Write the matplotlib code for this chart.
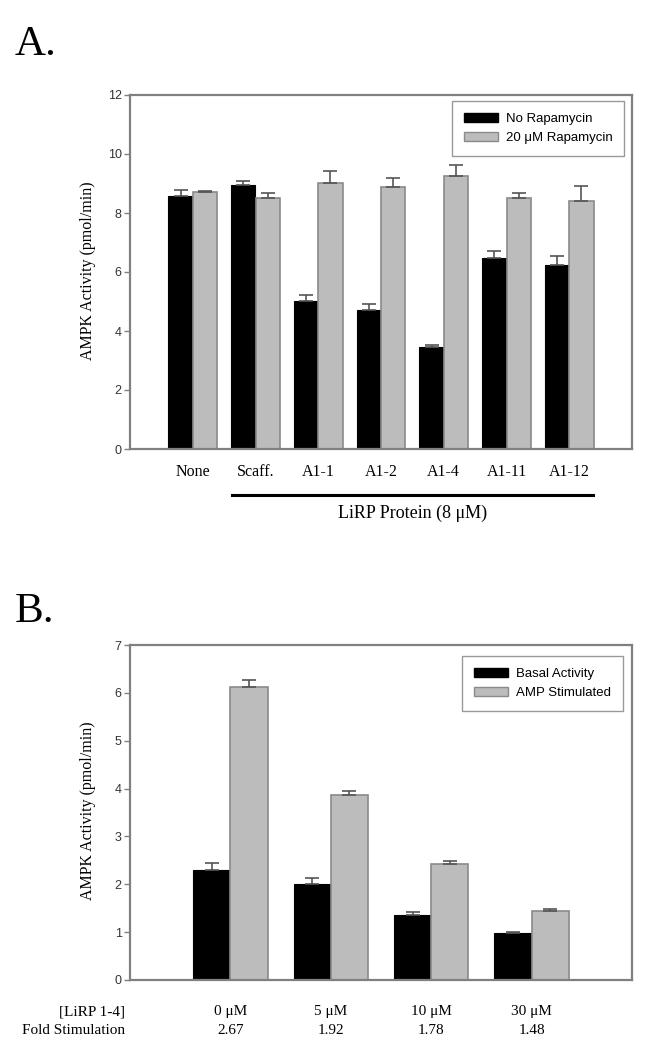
import numpy as np
import matplotlib
matplotlib.use("Agg")
import matplotlib.pyplot as plt
from matplotlib.patches import Patch

# Panel A: AMPK activity with LiRP proteins, +/- rapamycin
a_labels = ["None", "Scaff.", "A1-1", "A1-2", "A1-4", "A1-11", "A1-12"]
a_no_rapa = [8.57, 8.94, 5.02, 4.72, 3.47, 6.47, 6.24]
a_no_rapa_err = [0.22, 0.13, 0.21, 0.20, 0.07, 0.25, 0.30]
a_rapa = [8.70, 8.51, 9.03, 8.87, 9.27, 8.51, 8.40]
a_rapa_err = [0.06, 0.18, 0.41, 0.33, 0.35, 0.18, 0.53]

# Panel B: basal vs AMP stimulated at increasing LiRP 1-4
b_conc = ["0 \u03bcM", "5 \u03bcM", "10 \u03bcM", "30 \u03bcM"]
b_fold = ["2.67", "1.92", "1.78", "1.48"]
b_basal = [2.29, 2.01, 1.36, 0.99]
b_basal_err = [0.15, 0.13, 0.07, 0.01]
b_amp = [6.12, 3.87, 2.43, 1.45]
b_amp_err = [0.14, 0.07, 0.06, 0.04]

SERIF = "Liberation Serif"
SANS = "Liberation Sans"
FRAME = "#808080"
GREY_BAR = "#bcbcbc"
GREY_EDGE = "#8a8a8a"
ERR = "#555555"

W, H = 653, 1050
fig = plt.figure(figsize=(W / 100, H / 100), dpi=100)


def px_axes(left, top, right, bottom):
    return fig.add_axes([left / W, 1 - bottom / H, (right - left) / W, (bottom - top) / H])


def style_axes(ax, ymax, step):
    ax.set_ylim(0, ymax)
    ax.set_yticks(np.arange(0, ymax + 0.01, step))
    ax.set_xticks([])
    for s in ax.spines.values():
        s.set_color(FRAME)
        s.set_linewidth(1.6)
    ax.tick_params(axis="y", direction="out", length=4, width=1, color=FRAME,
                   labelsize=9, labelcolor="#333333", pad=2)
    for t in ax.get_yticklabels():
        t.set_fontfamily(SANS)


def draw_pairs(ax, y1, e1, y2, e2, width):
    x = np.arange(len(y1))
    ax.bar(x - width / 2, y1, width, color="black", edgecolor="black", linewidth=0.8, zorder=2)
    ax.bar(x + width / 2, y2, width, color=GREY_BAR, edgecolor=GREY_EDGE, linewidth=1.2, zorder=2)
    z = np.zeros(len(y1))
    ax.errorbar(x - width / 2, y1, yerr=[z, e1], fmt="none", ecolor=ERR,
                elinewidth=1.2, capsize=5, capthick=1.2, zorder=3)
    ax.errorbar(x + width / 2, y2, yerr=[z, e2], fmt="none", ecolor=ERR,
                elinewidth=1.2, capsize=5, capthick=1.2, zorder=3)
    return x


def add_legend(ax, labels, anchor):
    handles = [Patch(facecolor="black", edgecolor="black", label=labels[0]),
               Patch(facecolor=GREY_BAR, edgecolor=GREY_EDGE, label=labels[1])]
    leg = ax.legend(handles=handles, loc="upper right", bbox_to_anchor=anchor,
                    borderaxespad=0, prop={"family": SANS, "size": 9.5}, frameon=True,
                    fancybox=False, edgecolor=FRAME, handlelength=2.6, handleheight=0.7,
                    borderpad=0.9, labelspacing=0.5, handletextpad=0.6)
    leg.get_frame().set_linewidth(1.0)


# ---- Panel A ----
fig.text(15 / W, 1 - 55 / H, "A.", family=SERIF, fontsize=31)
axA = px_axes(130, 95, 632, 449)
xa = draw_pairs(axA, a_no_rapa, a_no_rapa_err, a_rapa, a_rapa_err, 0.39)
axA.set_xlim(-1, 7)
style_axes(axA, 12, 2)
add_legend(axA, ["No Rapamycin", "20 \u03bcM Rapamycin"], (0.985, 0.982))
for xi, lab in zip(xa, a_labels):
    axA.text(xi, -0.78, lab, ha="center", va="center", family=SERIF, fontsize=11.5)
# bracket line under the LiRP proteins
axA.plot([xa[1] - 0.38, xa[-1] + 0.38], [-1.55, -1.55], color="black", lw=2.2, clip_on=False)
axA.text((xa[1] + xa[-1]) / 2, -2.18, "LiRP Protein (8 \u03bcM)", ha="center", va="center",
         family=SERIF, fontsize=13)
fig.text(88 / W, 1 - 271 / H, "AMPK Activity (pmol/min)", rotation=90, ha="center",
         va="center", family=SERIF, fontsize=11.5)

# ---- Panel B ----
fig.text(15 / W, 1 - 622 / H, "B.", family=SERIF, fontsize=31)
axB = px_axes(130, 645, 632, 980)
xb = draw_pairs(axB, b_basal, b_basal_err, b_amp, b_amp_err, 0.37)
axB.set_xlim(-1, 4)
style_axes(axB, 7, 1)
add_legend(axB, ["Basal Activity", "AMP Stimulated"], (0.982, 0.967))
fig.text(88 / W, 1 - 811 / H, "AMPK Activity (pmol/min)", rotation=90, ha="center",
         va="center", family=SERIF, fontsize=11.5)

row1, row2 = 1 - 1012 / H, 1 - 1031 / H
fig.text(125 / W, row1, "[LiRP 1-4]", ha="right", va="center", family=SERIF, fontsize=11)
fig.text(125 / W, row2, "Fold Stimulation", ha="right", va="center", family=SERIF, fontsize=11)
for xi, conc, fold in zip(xb, b_conc, b_fold):
    xf = axB.transData.transform((xi, 0))[0] / W
    fig.text(xf, row1, conc, ha="center", va="center", family=SERIF, fontsize=11)
    fig.text(xf, row2, fold, ha="center", va="center", family=SERIF, fontsize=11)

fig.savefig("out.png", dpi=100)
